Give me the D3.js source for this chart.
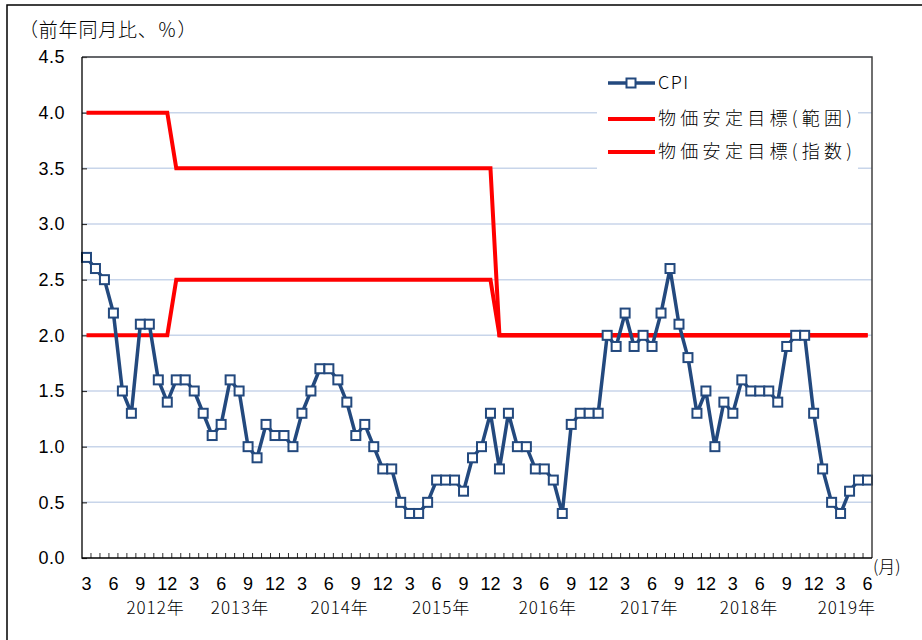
<!DOCTYPE html>
<html>
<head>
<meta charset="utf-8">
<script src="https://cdn.jsdelivr.net/npm/d3@7"></script>
<style>
  body { margin: 0; background: #fff; }
</style>
</head>
<body>
<div id="canvas"></div>
<script>
"use strict"

/* Data: months from 2012-03 to 2019-06 */
let startYear = 2012, startMonth = 3, endYear = 2019, endMonth = 6;
let months = [];
for (let yr = startYear; yr <= endYear; yr++) {
    for (let m = 1; m <= 12; m++) {
        if (yr === startYear && m < startMonth) continue;
        if (yr === endYear && m > endMonth) break;
        months.push(yr + "-" + String(m).padStart(2, "0"));
    }
}

/* CPI, year-on-year % */
let cpi = [
    2.7, 2.6, 2.5, 2.2, 1.5, 1.3, 2.1, 2.1, 1.6, 1.4,           // 2012 3-12
    1.6, 1.6, 1.5, 1.3, 1.1, 1.2, 1.6, 1.5, 1.0, 0.9, 1.2, 1.1, // 2013
    1.1, 1.0, 1.3, 1.5, 1.7, 1.7, 1.6, 1.4, 1.1, 1.2, 1.0, 0.8, // 2014
    0.8, 0.5, 0.4, 0.4, 0.5, 0.7, 0.7, 0.7, 0.6, 0.9, 1.0, 1.3, // 2015
    0.8, 1.3, 1.0, 1.0, 0.8, 0.8, 0.7, 0.4, 1.2, 1.3, 1.3, 1.3, // 2016
    2.0, 1.9, 2.2, 1.9, 2.0, 1.9, 2.2, 2.6, 2.1, 1.8, 1.3, 1.5, // 2017
    1.0, 1.4, 1.3, 1.6, 1.5, 1.5, 1.5, 1.4, 1.9, 2.0, 2.0, 1.3, // 2018
    0.8, 0.5, 0.4, 0.6, 0.7, 0.7                                // 2019 1-6
];

/* Inflation target: range (upper / lower) and point target, as break points */
let targetUpper = [["2012-03", 4.0], ["2012-12", 4.0], ["2013-01", 3.5], ["2015-12", 3.5], ["2016-01", 2.0], ["2019-06", 2.0]];
let targetLower = [["2012-03", 2.0], ["2012-12", 2.0], ["2013-01", 2.5], ["2015-12", 2.5], ["2016-01", 2.0], ["2019-06", 2.0]];
let targetPoint = [["2016-01", 2.0], ["2019-06", 2.0]];

let yTicks = [0.0, 0.5, 1.0, 1.5, 2.0, 2.5, 3.0, 3.5, 4.0, 4.5];
let monthTickLabels = [3, 6, 9, 12];
let yearLabels = ["2012年", "2013年", "2014年", "2015年", "2016年", "2017年", "2018年", "2019年"];
let legendLabels = ["CPI", "物価安定目標(範囲)", "物価安定目標(指数)"];

/* Layout */
let W = 922, H = 640;
let plotLeft = 82, plotRight = 872, plotTop = 57, plotBottom = 558;
// where each year caption sits, in month-index units along the axis
let yearLabelAt = [7.7, 17.1, 28.2, 39.5, 51.4, 62.7, 73.8, 84.7];

let blue = "#23497e";
let red = "#ff0000";
let grid = "#c8d5ea";
let numFont = "'Liberation Sans', Arial, sans-serif";
let jpFont = "'Noto Sans CJK JP', 'Noto Sans', sans-serif";

let drawing = d3.select("#canvas")
    .append("svg")
    .attr("width", W)
    .attr("height", H);

/* Outer frame */
let frame = drawing.append("rect")
    .attr("x", 7)
    .attr("y", 5)
    .attr("width", 940)
    .attr("height", 660)
    .attr("fill", "#fff")
    .attr("stroke", "#000")
    .attr("stroke-width", 1.5);

/* Scales */
let x = d3.scaleBand()
    .domain(months)
    .range([plotLeft, plotRight]);
let xc = m => x(m) + x.bandwidth() / 2;

let y = d3.scaleLinear()
    .domain([0, 4.5])
    .range([plotBottom, plotTop]);

/* Gridlines */
drawing.append("g")
    .selectAll("line")
    .data(yTicks.filter(v => v > 0))
    .join("line")
    .attr("x1", plotLeft)
    .attr("x2", plotRight)
    .attr("y1", d => y(d))
    .attr("y2", d => y(d))
    .attr("stroke", grid)
    .attr("stroke-width", 1.5);

/* Y axis: ticks inside, labels outside */
let yAxis = drawing.append("g")
    .attr("transform", `translate(${plotLeft},0)`)
    .call(d3.axisRight(y).tickValues(yTicks).tickSize(5).tickFormat(""));
yAxis.select(".domain").remove();
yAxis.selectAll("line").attr("stroke", "#333").attr("stroke-width", 1.2);

drawing.append("g")
    .selectAll("text")
    .data(yTicks)
    .join("text")
    .attr("x", plotLeft - 17)
    .attr("y", d => y(d))
    .attr("dy", "0.36em")
    .attr("text-anchor", "end")
    .attr("font-family", numFont)
    .attr("font-size", 18)
    .attr("letter-spacing", 0.5)
    .attr("fill", "#000")
    .text(d => d.toFixed(1));

/* X axis: month boundary ticks inside */
drawing.append("g")
    .selectAll("line")
    .data(months.slice(1))
    .join("line")
    .attr("x1", d => x(d))
    .attr("x2", d => x(d))
    .attr("y1", plotBottom)
    .attr("y2", plotBottom - 5)
    .attr("stroke", "#333")
    .attr("stroke-width", 1);

/* Month labels */
drawing.append("g")
    .selectAll("text")
    .data(months.filter(m => monthTickLabels.includes(+m.slice(5))))
    .join("text")
    .attr("x", d => xc(d))
    .attr("y", 590)
    .attr("text-anchor", "middle")
    .attr("font-family", numFont)
    .attr("font-size", 18)
    .attr("fill", "#000")
    .text(d => +d.slice(5));

/* Year labels */
let step = x.step();
drawing.append("g")
    .selectAll("text")
    .data(yearLabels)
    .join("text")
    .attr("x", (d, i) => xc(months[0]) + yearLabelAt[i] * step)
    .attr("y", 614)
    .attr("text-anchor", "middle")
    .attr("font-family", jpFont)
    .attr("font-weight", 300)
    .attr("font-size", 17)
    .attr("letter-spacing", 1)
    .attr("fill", "#000")
    .text(d => d);

/* Unit captions */
let yTitle = drawing.append("text")
    .attr("x", 19)
    .attr("y", 37)
    .attr("font-family", jpFont)
    .attr("font-weight", 300)
    .attr("font-size", 19)
    .attr("letter-spacing", 0.8)
    .attr("fill", "#000")
    .text("（前年同月比、％）");

let monthUnit = drawing.append("text")
    .attr("x", 873)
    .attr("y", 573)
    .attr("font-family", jpFont)
    .attr("font-weight", 300)
    .attr("font-size", 17)
    .attr("fill", "#000")
    .text("(月)");

/* Legend background */
let legendBox = drawing.append("rect")
    .attr("x", 597)
    .attr("y", 62)
    .attr("width", 261)
    .attr("height", 110)
    .attr("fill", "#fff");

/* Target lines */
let line = d3.line()
    .x(d => xc(d[0]))
    .y(d => y(d[1]));

[targetLower, targetUpper, targetPoint].forEach(series => {
    drawing.append("path")
        .attr("d", line(series))
        .attr("fill", "none")
        .attr("stroke", red)
        .attr("stroke-width", 4);
});

/* CPI line */
let cpiData = months.map((m, i) => [m, cpi[i]]);
let cpiLine = drawing.append("path")
    .attr("d", line(cpiData))
    .attr("fill", "none")
    .attr("stroke", blue)
    .attr("stroke-width", 3.5)
    .attr("stroke-linejoin", "round");

let markerSize = 9;
drawing.append("g")
    .selectAll("rect")
    .data(cpiData)
    .join("rect")
    .attr("x", d => xc(d[0]) - markerSize / 2)
    .attr("y", d => y(d[1]) - markerSize / 2)
    .attr("width", markerSize)
    .attr("height", markerSize)
    .attr("fill", "#fff")
    .attr("stroke", blue)
    .attr("stroke-width", 2);

/* Plot border (top and right), axis lines (left and bottom) */
let plotTopRight = drawing.append("path")
    .attr("d", `M${plotLeft},${plotTop}H${plotRight}V${plotBottom}`)
    .attr("fill", "none")
    .attr("stroke", "#404040")
    .attr("stroke-width", 1.5);

let axisLines = drawing.append("path")
    .attr("d", `M${plotLeft},${plotTop}V${plotBottom}H${plotRight}`)
    .attr("fill", "none")
    .attr("stroke", "#000")
    .attr("stroke-width", 1.3);

/* Legend */
let legendX = 608, legendRows = [83, 119, 152];
let legend = drawing.append("g");
legendLabels.forEach((label, i) => {
    let ly = legendRows[i];
    legend.append("line")
        .attr("x1", legendX)
        .attr("x2", legendX + 47)
        .attr("y1", ly)
        .attr("y2", ly)
        .attr("stroke", i === 0 ? blue : red)
        .attr("stroke-width", i === 0 ? 3.5 : 4);
    if (i === 0) {
        legend.append("rect")
            .attr("x", legendX + 23 - markerSize / 2)
            .attr("y", ly - markerSize / 2)
            .attr("width", markerSize)
            .attr("height", markerSize)
            .attr("fill", "#fff")
            .attr("stroke", blue)
            .attr("stroke-width", 2);
    }
    legend.append("text")
        .attr("x", legendX + 50)
        .attr("y", ly)
        .attr("dy", "0.36em")
        .attr("font-family", jpFont)
        .attr("font-weight", 300)
        .attr("font-size", 18)
        .attr("letter-spacing", i === 0 ? 1.5 : 4.3)
        .attr("fill", "#000")
        .text(label);
});
</script>
</body>
</html>
